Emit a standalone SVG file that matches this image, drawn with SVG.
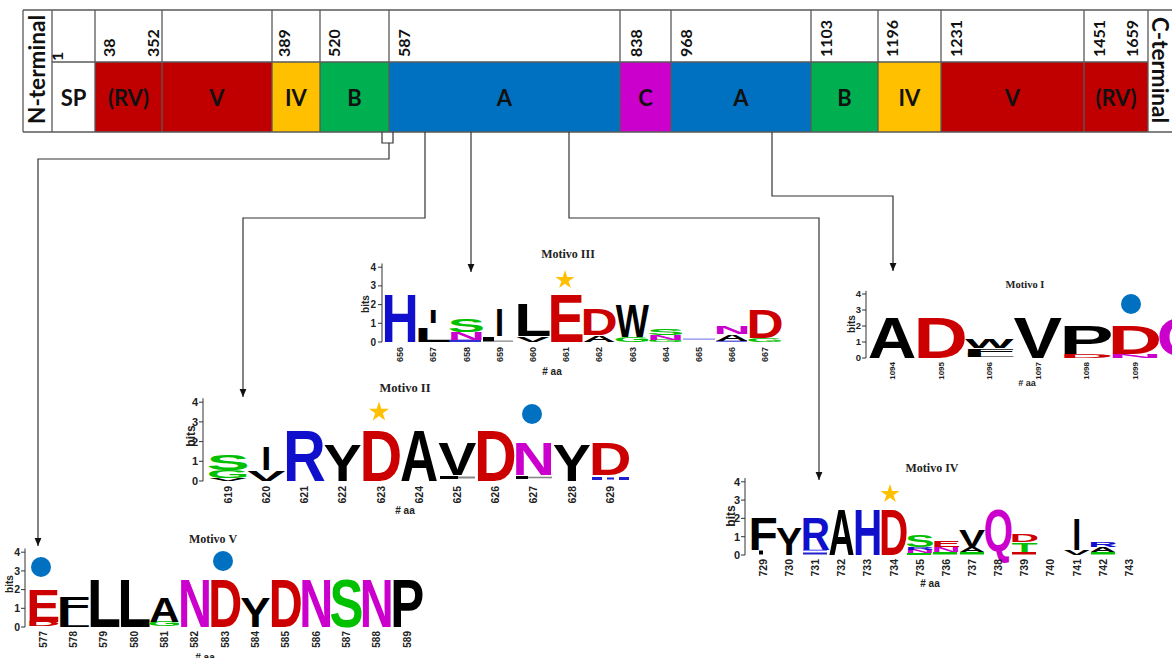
<svg xmlns="http://www.w3.org/2000/svg" xmlns:xlink="http://www.w3.org/1999/xlink" width="1172" height="658" viewBox="0 0 1172 658">
<style>
.fr{fill:none;stroke:#5a5a5a;stroke-width:1.3}
.lbl{font-family:Lato,"Liberation Sans",sans-serif;font-weight:bold;font-size:22px;text-anchor:middle;fill:#111}
.num{font-family:Lato,"Liberation Sans",sans-serif;font-weight:bold;font-size:16px;fill:#111}
.term{font-family:Lato,"Liberation Sans",sans-serif;font-weight:bold;font-size:22px;fill:#111}
.conn{fill:none;stroke:#333;stroke-width:1.2}
.g{font-family:"Liberation Sans",Arial,sans-serif;font-weight:bold;font-size:100px}
.b{fill:#1010CC}.r{fill:#CC0000}.k{fill:#000}.gr{fill:#00C000}.m{fill:#CC00CC}
.ax{fill:none;stroke:#333;stroke-width:1}
.tk{font-family:"Liberation Sans",Arial,sans-serif;font-weight:bold;text-anchor:end;fill:#222}
.xl{font-family:"Liberation Sans",Arial,sans-serif;font-weight:bold;text-anchor:end;fill:#222}
.bits{font-family:"Liberation Sans",Arial,sans-serif;font-weight:bold;text-anchor:middle;fill:#222}
.aa{font-family:"Liberation Sans",Arial,sans-serif;font-weight:bold;text-anchor:middle;fill:#222}
.ttl{font-family:"Liberation Serif","Times New Roman",serif;font-weight:bold;text-anchor:middle;fill:#222}
.star{fill:#FFC000}
.dot{fill:#0070C0}
</style>
<defs>
<marker id="ah" viewBox="0 0 8 8" refX="8" refY="4" markerWidth="8" markerHeight="8" orient="auto" markerUnits="userSpaceOnUse"><path d="M0,0.6 L8,4 L0,7.4 Z" fill="#111"/></marker>
<polygon id="st" points="0,-10 2.245,-3.09 9.51,-3.09 3.63,1.18 5.88,8.09 0,3.82 -5.88,8.09 -3.63,1.18 -9.51,-3.09 -2.245,-3.09"/>
</defs>
<rect width="1172" height="658" fill="#fff"/>

<!-- protein domain bar -->
<g id="domains">
<g id="d-nterm"><text class="term" transform="translate(45,124) rotate(-90)" textLength="109" lengthAdjust="spacingAndGlyphs">N-terminal</text></g>
<g id="d-sp"><rect x="52" y="62" width="43" height="70" fill="#fff"/><text class="lbl" x="73.5" y="106">SP</text><text class="num" transform="translate(63,61) rotate(-90)">1</text></g>
<g id="d-rv1"><rect x="95" y="62" width="67" height="70" fill="#C00000"/><text class="lbl" x="128.5" y="106">(RV)</text><text class="num" transform="translate(115,57) rotate(-90)">38</text><text class="num" transform="translate(159,57) rotate(-90)">352</text></g>
<g id="d-v1"><rect x="162" y="62" width="110" height="70" fill="#C00000"/><text class="lbl" x="217" y="106">V</text></g>
<g id="d-iv1"><rect x="272" y="62" width="48" height="70" fill="#FFC000"/><text class="lbl" x="296" y="106">IV</text><text class="num" transform="translate(290,57) rotate(-90)">389</text></g>
<g id="d-b1"><rect x="320" y="62" width="69" height="70" fill="#00B050"/><text class="lbl" x="354.5" y="106">B</text><text class="num" transform="translate(340,57) rotate(-90)">520</text></g>
<g id="d-a1"><rect x="389" y="62" width="231" height="70" fill="#0070C0"/><text class="lbl" x="504.5" y="106">A</text><text class="num" transform="translate(410,57) rotate(-90)">587</text></g>
<g id="d-c"><rect x="620" y="62" width="51" height="70" fill="#CC00CC"/><text class="lbl" x="645.5" y="106">C</text><text class="num" transform="translate(642,57) rotate(-90)">838</text></g>
<g id="d-a2"><rect x="671" y="62" width="140" height="70" fill="#0070C0"/><text class="lbl" x="741" y="106">A</text><text class="num" transform="translate(692,57) rotate(-90)">968</text></g>
<g id="d-b2"><rect x="811" y="62" width="67" height="70" fill="#00B050"/><text class="lbl" x="844.5" y="106">B</text><text class="num" transform="translate(832,57) rotate(-90)">1103</text></g>
<g id="d-iv2"><rect x="878" y="62" width="63" height="70" fill="#FFC000"/><text class="lbl" x="909.5" y="106">IV</text><text class="num" transform="translate(898,57) rotate(-90)">1196</text></g>
<g id="d-v2"><rect x="941" y="62" width="143" height="70" fill="#C00000"/><text class="lbl" x="1012.5" y="106">V</text><text class="num" transform="translate(962,57) rotate(-90)">1231</text></g>
<g id="d-rv2"><rect x="1084" y="62" width="64" height="70" fill="#C00000"/><text class="lbl" x="1116" y="106">(RV)</text><text class="num" transform="translate(1105,57) rotate(-90)">1451</text><text class="num" transform="translate(1138,57) rotate(-90)">1659</text></g>
<g id="d-cterm"><text class="term" transform="translate(1152,17) rotate(90)" textLength="106" lengthAdjust="spacingAndGlyphs">C-terminal</text></g>
<g id="frame" class="fr">
<path d="M23,10 H1172 M23,132 H1172 M23,10 V132 M52,62 H1148"/>
<path d="M52,10 V132 M95,10 V132 M162,10 V132 M272,10 V132 M320,10 V132 M389,10 V132 M620,10 V132 M671,10 V132 M811,10 V132 M878,10 V132 M941,10 V132 M1084,10 V132 M1148,10 V132"/>
</g>
</g>

<!-- connectors -->
<g id="connectors" class="conn">
<path d="M382,132 V143 H393 V132"/>
<path d="M389,143 V159 H38 V546" marker-end="url(#ah)"/>
<path d="M425,132 V218 H243 V397" marker-end="url(#ah)"/>
<path d="M471,132 V272" marker-end="url(#ah)"/>
<path d="M569,132 V218 H819 V480" marker-end="url(#ah)"/>
<path d="M772,132 V196 H893 V271" marker-end="url(#ah)"/>
</g>

<!-- Motivo III -->
<g id="motif3">
<text class="ttl" x="568" y="258" font-size="12">Motivo III</text>
<path class="ax" d="M382,342 V263.5 M378,342 H382 M378,323.3 H382 M378,304.6 H382 M378,285.9 H382 M378,267.2 H382"/>
<g class="tk" font-size="10"><text x="376" y="345.5">0</text><text x="376" y="326.8">1</text><text x="376" y="308.1">2</text><text x="376" y="289.4">3</text><text x="376" y="270.7">4</text></g>
<text class="bits" font-size="10" transform="translate(369,304) rotate(-90)">bits</text>
<text class="g b" x="381.4" textLength="37.2" lengthAdjust="spacingAndGlyphs" transform="matrix(1 0 0 .679 0 342)">H</text>
<text class="g k" x="414.6" textLength="37.2" lengthAdjust="spacingAndGlyphs" transform="matrix(1 0 0 .209 0 342)">L</text>
<text class="g k" x="428.7" textLength="9" lengthAdjust="spacingAndGlyphs" transform="matrix(1 0 0 .183 0 323.3)">I</text>
<rect x="450" y="339.6" width="31" height="2.4" fill="#3030d0"/>
<text class="g m" x="447.8" textLength="37.2" lengthAdjust="spacingAndGlyphs" transform="matrix(1 0 0 .107 0 339.57)">N</text>
<text class="g gr" x="447.8" textLength="37.2" lengthAdjust="spacingAndGlyphs" transform="matrix(1 0 0 .188 0 331.9)">S</text>
<rect x="483" y="337" width="11" height="4.5" fill="#000"/><rect x="494" y="340.6" width="19" height="1" fill="#666"/>
<text class="g k" x="495.1" textLength="9" lengthAdjust="spacingAndGlyphs" transform="matrix(1 0 0 .392 0 336.4)">I</text>
<text class="g k" x="516.2" textLength="33.2" lengthAdjust="spacingAndGlyphs" transform="matrix(1 0 0 .078 0 342)">V</text>
<text class="g k" x="514.2" textLength="37.2" lengthAdjust="spacingAndGlyphs" transform="matrix(1 0 0 .462 0 336.4)">L</text>
<text class="g r" x="547.4" textLength="37.2" lengthAdjust="spacingAndGlyphs" transform="matrix(1 0 0 .679 0 342)">E</text>
<use xlink:href="#st" href="#st" class="star" transform="translate(565,280)"/>
<text class="g k" x="582.6" textLength="33.2" lengthAdjust="spacingAndGlyphs" transform="matrix(1 0 0 .094 0 342)">A</text>
<text class="g r" x="580.6" textLength="37.2" lengthAdjust="spacingAndGlyphs" transform="matrix(1 0 0 .376 0 335.3)">D</text>
<text class="g gr" x="613.8" textLength="37.2" lengthAdjust="spacingAndGlyphs" transform="matrix(1 0 0 .0705 0 342)">G</text>
<text class="g k" x="615.8" textLength="33.2" lengthAdjust="spacingAndGlyphs" transform="matrix(1 0 0 .4675 0 336.95)">W</text>
<text class="g gr" x="647" textLength="37.2" lengthAdjust="spacingAndGlyphs" transform="matrix(1 0 0 .034 0 342)">G</text>
<text class="g m" x="647" textLength="37.2" lengthAdjust="spacingAndGlyphs" transform="matrix(1 0 0 .0705 0 339.57)">N</text>
<text class="g gr" x="647" textLength="37.2" lengthAdjust="spacingAndGlyphs" transform="matrix(1 0 0 .0836 0 334.5)">S</text>
<rect x="683" y="338.3" width="32" height="1.7" fill="#a8a8f0"/>
<rect x="716" y="340.5" width="31" height="1.5" fill="#6666dd"/>
<text class="g k" x="715.4" textLength="33.2" lengthAdjust="spacingAndGlyphs" transform="matrix(1 0 0 .0862 0 340.5)">A</text>
<text class="g m" x="713.4" textLength="37.2" lengthAdjust="spacingAndGlyphs" transform="matrix(1 0 0 .112 0 334.33)">N</text>
<text class="g gr" x="746.6" textLength="37.2" lengthAdjust="spacingAndGlyphs" transform="matrix(1 0 0 .06 0 342)">G</text>
<text class="g r" x="746.6" textLength="37.2" lengthAdjust="spacingAndGlyphs" transform="matrix(1 0 0 .41 0 337.7)">D</text>
<g class="xl" font-size="9">
<text transform="translate(403.2,347) rotate(-90)">656</text><text transform="translate(436.4,347) rotate(-90)">657</text><text transform="translate(469.6,347) rotate(-90)">658</text><text transform="translate(502.8,347) rotate(-90)">659</text><text transform="translate(536,347) rotate(-90)">660</text><text transform="translate(569.2,347) rotate(-90)">661</text><text transform="translate(602.4,347) rotate(-90)">662</text><text transform="translate(635.6,347) rotate(-90)">663</text><text transform="translate(668.8,347) rotate(-90)">664</text><text transform="translate(702,347) rotate(-90)">665</text><text transform="translate(735.2,347) rotate(-90)">666</text><text transform="translate(768.4,347) rotate(-90)">667</text>
</g>
<text class="aa" x="552" y="375" font-size="10"># aa</text>
</g>

<!-- Motivo II -->
<g id="motif2">
<text class="ttl" x="405" y="392" font-size="12.5">Motivo II</text>
<path class="ax" d="M203,481 V398.3 M199,481 H203 M199,461.3 H203 M199,441.6 H203 M199,421.9 H203 M199,402.2 H203"/>
<g class="tk" font-size="11"><text x="198" y="485">0</text><text x="198" y="465.3">1</text><text x="198" y="445.6">2</text><text x="198" y="425.9">3</text><text x="198" y="406.2">4</text></g>
<text class="bits" font-size="12" transform="translate(195,436) rotate(-90)">bits</text>
<text class="g k" x="209" textLength="38.2" lengthAdjust="spacingAndGlyphs" transform="matrix(1 0 0 .0413 0 481)">V</text>
<text class="g gr" x="206.7" textLength="42.8" lengthAdjust="spacingAndGlyphs" transform="matrix(1 0 0 .110 0 478.04)">G</text>
<text class="g gr" x="206.7" textLength="42.8" lengthAdjust="spacingAndGlyphs" transform="matrix(1 0 0 .212 0 470.16)">S</text>
<text class="g k" x="247.2" textLength="38.2" lengthAdjust="spacingAndGlyphs" transform="matrix(1 0 0 .154 0 481)">V</text>
<text class="g k" x="261.3" textLength="10" lengthAdjust="spacingAndGlyphs" transform="matrix(1 0 0 .327 0 469.97)">I</text>
<text class="g b" x="283.1" textLength="42.8" lengthAdjust="spacingAndGlyphs" transform="matrix(1 0 0 .715 0 481)">R</text>
<text class="g k" x="323.6" textLength="38.2" lengthAdjust="spacingAndGlyphs" transform="matrix(1 0 0 .523 0 481)">Y</text>
<text class="g r" x="359.5" textLength="42.8" lengthAdjust="spacingAndGlyphs" transform="matrix(1 0 0 .715 0 481)">D</text>
<use xlink:href="#st" href="#st" class="star" transform="translate(379,412) scale(1.05)"/>
<text class="g k" x="400" textLength="38.2" lengthAdjust="spacingAndGlyphs" transform="matrix(1 0 0 .715 0 481)">A</text>
<rect x="440" y="476" width="18" height="3" fill="#000"/><rect x="458" y="476.5" width="17" height="2" fill="#888"/>
<text class="g k" x="438.2" textLength="38.2" lengthAdjust="spacingAndGlyphs" transform="matrix(1 0 0 .468 0 475.09)">V</text>
<text class="g r" x="474.1" textLength="42.8" lengthAdjust="spacingAndGlyphs" transform="matrix(1 0 0 .715 0 481)">D</text>
<rect x="516" y="476" width="12" height="3" fill="#000"/><rect x="528" y="476.7" width="24" height="1.6" fill="#888"/>
<text class="g m" x="512.3" textLength="42.8" lengthAdjust="spacingAndGlyphs" transform="matrix(1 0 0 .468 0 475.09)">N</text>
<circle class="dot" cx="532" cy="414" r="10"/>
<text class="g k" x="552.8" textLength="38.2" lengthAdjust="spacingAndGlyphs" transform="matrix(1 0 0 .523 0 481)">Y</text>
<rect x="592" y="477" width="10" height="3" fill="#2020d0"/><rect x="607" y="477.5" width="7" height="2" fill="#2020d0"/><rect x="619" y="477" width="10" height="3" fill="#2020d0"/>
<text class="g r" x="588.7" textLength="42.8" lengthAdjust="spacingAndGlyphs" transform="matrix(1 0 0 .468 0 475.09)">D</text>
<g class="xl" font-size="10.5">
<text transform="translate(231.8,486) rotate(-90)">619</text><text transform="translate(270,486) rotate(-90)">620</text><text transform="translate(308.2,486) rotate(-90)">621</text><text transform="translate(346.4,486) rotate(-90)">622</text><text transform="translate(384.6,486) rotate(-90)">623</text><text transform="translate(422.8,486) rotate(-90)">624</text><text transform="translate(461,486) rotate(-90)">625</text><text transform="translate(499.2,486) rotate(-90)">626</text><text transform="translate(537.4,486) rotate(-90)">627</text><text transform="translate(575.6,486) rotate(-90)">628</text><text transform="translate(613.8,486) rotate(-90)">629</text>
</g>
<text class="aa" x="405" y="514" font-size="10"># aa</text>
</g>

<!-- Motivo I -->
<g id="motif1">
<text class="ttl" x="1025" y="288" font-size="10.5">Motivo I</text>
<path class="ax" d="M866,358 V290.8 M862,358 H866 M862,342 H866 M862,326 H866 M862,310 H866 M862,294 H866"/>
<g class="tk" font-size="9.5"><text x="861" y="361.3">0</text><text x="861" y="345.3">1</text><text x="861" y="329.3">2</text><text x="861" y="313.3">3</text><text x="861" y="297.3">4</text></g>
<text class="bits" font-size="10" transform="translate(855,324) rotate(-90)">bits</text>
<text class="g k" x="867.7" textLength="48.6" lengthAdjust="spacingAndGlyphs" transform="matrix(1 0 0 .581 0 358)">A</text>
<text class="g r" x="913.4" textLength="54.4" lengthAdjust="spacingAndGlyphs" transform="matrix(1 0 0 .581 0 358)">D</text>
<text class="g k" x="962" textLength="54.4" lengthAdjust="spacingAndGlyphs" transform="matrix(1 0 0 .0447 0 357.2)">L</text>
<text class="g k" x="962" textLength="54.4" lengthAdjust="spacingAndGlyphs" transform="matrix(1 0 0 .067 0 353.52)">F</text>
<text class="g k" x="964.9" textLength="48.6" lengthAdjust="spacingAndGlyphs" transform="matrix(1 0 0 .123 0 348.4)">W</text>
<text class="g k" x="1013.5" textLength="48.6" lengthAdjust="spacingAndGlyphs" transform="matrix(1 0 0 .581 0 358)">V</text>
<text class="g r" x="1059.2" textLength="54.4" lengthAdjust="spacingAndGlyphs" transform="matrix(1 0 0 .0603 0 358)">D</text>
<text class="g k" x="1059.2" textLength="54.4" lengthAdjust="spacingAndGlyphs" transform="matrix(1 0 0 .4 0 353.68)">P</text>
<text class="g m" x="1107.8" textLength="54.4" lengthAdjust="spacingAndGlyphs" transform="matrix(1 0 0 .0603 0 358)">N</text>
<text class="g r" x="1107.8" textLength="54.4" lengthAdjust="spacingAndGlyphs" transform="matrix(1 0 0 .4 0 353.68)">D</text>
<circle class="dot" cx="1131" cy="304" r="10"/>
<text class="g m" x="1156.4" textLength="54.4" lengthAdjust="spacingAndGlyphs" transform="matrix(1 0 0 .547 0 355.6)">Q</text>
<g class="xl" font-size="8">
<text transform="translate(894.9,362) rotate(-90)">1094</text><text transform="translate(943.5,362) rotate(-90)">1095</text><text transform="translate(992.1,362) rotate(-90)">1096</text><text transform="translate(1040.7,362) rotate(-90)">1097</text><text transform="translate(1089.3,362) rotate(-90)">1098</text><text transform="translate(1137.9,362) rotate(-90)">1099</text>
</g>
<text class="aa" x="1027" y="386" font-size="9"># aa</text>
</g>

<!-- Motivo IV -->
<g id="motif4">
<text class="ttl" x="932" y="472" font-size="12">Motivo IV</text>
<path class="ax" d="M745,555 V478.1 M741,555 H745 M741,536.7 H745 M741,518.4 H745 M741,500.1 H745 M741,481.8 H745"/>
<g class="tk" font-size="11"><text x="740" y="559">0</text><text x="740" y="540.7">1</text><text x="740" y="522.4">2</text><text x="740" y="504.1">3</text><text x="740" y="485.8">4</text></g>
<text class="bits" font-size="12" transform="translate(735,516) rotate(-90)">bits</text>
<rect x="759" y="550.5" width="4" height="4" fill="#000"/>
<text class="g k" x="748.4" textLength="29.3" lengthAdjust="spacingAndGlyphs" transform="matrix(1 0 0 .468 0 550.06)">F</text>
<text class="g k" x="776.1" textLength="26.1" lengthAdjust="spacingAndGlyphs" transform="matrix(1 0 0 .396 0 555)">Y</text>
<rect x="803" y="552.5" width="24" height="2" fill="#2020d0"/><rect x="803" y="549.5" width="24" height="1.5" fill="#8080ff"/>
<text class="g b" x="800.7" textLength="29.3" lengthAdjust="spacingAndGlyphs" transform="matrix(1 0 0 .468 0 550.06)">R</text>
<text class="g k" x="828.4" textLength="26.1" lengthAdjust="spacingAndGlyphs" transform="matrix(1 0 0 .652 0 555)">A</text>
<text class="g b" x="853" textLength="29.3" lengthAdjust="spacingAndGlyphs" transform="matrix(1 0 0 .652 0 555)">H</text>
<text class="g r" x="879.1" textLength="29.3" lengthAdjust="spacingAndGlyphs" transform="matrix(1 0 0 .652 0 555)">D</text>
<use xlink:href="#st" href="#st" class="star" transform="translate(890,494)"/>
<rect x="907" y="553" width="24" height="2" fill="#00C000"/>
<text class="g m" x="905.2" textLength="29.3" lengthAdjust="spacingAndGlyphs" transform="matrix(1 0 0 .046 0 552.8)">N</text>
<text class="g b" x="905.2" textLength="29.3" lengthAdjust="spacingAndGlyphs" transform="matrix(1 0 0 .0384 0 549.51)">R</text>
<text class="g gr" x="905.2" textLength="29.3" lengthAdjust="spacingAndGlyphs" transform="matrix(1 0 0 .166 0 546.76)">S</text>
<rect x="933" y="552" width="24" height="2.5" fill="#00C000"/>
<text class="g m" x="931.4" textLength="29.3" lengthAdjust="spacingAndGlyphs" transform="matrix(1 0 0 .069 0 551.71)">N</text>
<text class="g r" x="931.4" textLength="29.3" lengthAdjust="spacingAndGlyphs" transform="matrix(1 0 0 .0946 0 546.76)">E</text>
<rect x="960" y="552" width="24" height="2.5" fill="#00C000"/>
<text class="g k" x="959.1" textLength="26.1" lengthAdjust="spacingAndGlyphs" transform="matrix(1 0 0 .069 0 551.71)">A</text>
<text class="g k" x="959.1" textLength="26.1" lengthAdjust="spacingAndGlyphs" transform="matrix(1 0 0 .2326 0 546.76)">V</text>
<text class="g m" x="983.7" textLength="29.3" lengthAdjust="spacingAndGlyphs" transform="matrix(1 0 0 .6006 0 551.34)">Q</text>
<rect x="1012" y="552" width="24" height="2.5" fill="#CC0000"/>
<text class="g gr" x="1011.4" textLength="26.1" lengthAdjust="spacingAndGlyphs" transform="matrix(1 0 0 .133 0 551.71)">T</text>
<text class="g r" x="1009.8" textLength="29.3" lengthAdjust="spacingAndGlyphs" transform="matrix(1 0 0 .102 0 542.19)">D</text>
<text class="g k" x="1063.7" textLength="26.1" lengthAdjust="spacingAndGlyphs" transform="matrix(1 0 0 .069 0 555)">V</text>
<text class="g k" x="1072.3" textLength="9" lengthAdjust="spacingAndGlyphs" transform="matrix(1 0 0 .442 0 550.06)">I</text>
<rect x="1091" y="552" width="24" height="2.5" fill="#00C000"/>
<text class="g k" x="1089.8" textLength="26.1" lengthAdjust="spacingAndGlyphs" transform="matrix(1 0 0 .069 0 551.71)">A</text>
<text class="g b" x="1088.2" textLength="29.3" lengthAdjust="spacingAndGlyphs" transform="matrix(1 0 0 .064 0 546.76)">R</text>
<g class="xl" font-size="10.5">
<text transform="translate(766.8,559) rotate(-90)">729</text><text transform="translate(792.9,559) rotate(-90)">730</text><text transform="translate(819.1,559) rotate(-90)">731</text><text transform="translate(845.2,559) rotate(-90)">732</text><text transform="translate(871.4,559) rotate(-90)">733</text><text transform="translate(897.5,559) rotate(-90)">734</text><text transform="translate(923.6,559) rotate(-90)">735</text><text transform="translate(949.8,559) rotate(-90)">736</text><text transform="translate(975.9,559) rotate(-90)">737</text><text transform="translate(1002.1,559) rotate(-90)">738</text><text transform="translate(1028.2,559) rotate(-90)">739</text><text transform="translate(1054.3,559) rotate(-90)">740</text><text transform="translate(1080.5,559) rotate(-90)">741</text><text transform="translate(1106.6,559) rotate(-90)">742</text><text transform="translate(1132.8,559) rotate(-90)">743</text>
</g>
<text class="aa" x="930" y="587" font-size="10"># aa</text>
</g>

<!-- Motivo V -->
<g id="motif5">
<text class="ttl" x="213" y="543" font-size="12">Motivo V</text>
<path class="ax" d="M25,627 V548.5 M21,627 H25 M21,608.3 H25 M21,589.6 H25 M21,570.9 H25 M21,552.2 H25"/>
<g class="tk" font-size="10.5"><text x="20" y="630.7">0</text><text x="20" y="612">1</text><text x="20" y="593.3">2</text><text x="20" y="574.6">3</text><text x="20" y="555.9">4</text></g>
<text class="bits" font-size="10" transform="translate(13,584) rotate(-90)">bits</text>
<text class="g r" x="26.2" textLength="34" lengthAdjust="spacingAndGlyphs" transform="matrix(1 0 0 .0627 0 626.44)">D</text>
<text class="g r" x="26.2" textLength="34" lengthAdjust="spacingAndGlyphs" transform="matrix(1 0 0 .465 0 621.95)">E</text>
<circle class="dot" cx="41" cy="567" r="10"/>
<text class="g k" x="56.5" textLength="34" lengthAdjust="spacingAndGlyphs" transform="matrix(1 0 0 .162 0 627)">L</text>
<text class="g k" x="56.5" textLength="34" lengthAdjust="spacingAndGlyphs" transform="matrix(1 0 0 .256 0 615.41)">F</text>
<text class="g k" x="86.9" textLength="34" lengthAdjust="spacingAndGlyphs" transform="matrix(1 0 0 .679 0 627)">L</text>
<text class="g k" x="117.2" textLength="34" lengthAdjust="spacingAndGlyphs" transform="matrix(1 0 0 .679 0 627)">L</text>
<text class="g gr" x="147.5" textLength="34" lengthAdjust="spacingAndGlyphs" transform="matrix(1 0 0 .0627 0 626.44)">G</text>
<text class="g k" x="149.3" textLength="30.3" lengthAdjust="spacingAndGlyphs" transform="matrix(1 0 0 .347 0 621.95)">A</text>
<text class="g m" x="177.9" textLength="34" lengthAdjust="spacingAndGlyphs" transform="matrix(1 0 0 .679 0 627)">N</text>
<text class="g r" x="208.2" textLength="34" lengthAdjust="spacingAndGlyphs" transform="matrix(1 0 0 .679 0 627)">D</text>
<circle class="dot" cx="223" cy="561" r="10"/>
<text class="g k" x="240.3" textLength="30.3" lengthAdjust="spacingAndGlyphs" transform="matrix(1 0 0 .418 0 627)">Y</text>
<text class="g r" x="268.8" textLength="34" lengthAdjust="spacingAndGlyphs" transform="matrix(1 0 0 .679 0 627)">D</text>
<text class="g m" x="299.2" textLength="34" lengthAdjust="spacingAndGlyphs" transform="matrix(1 0 0 .679 0 627)">N</text>
<text class="g gr" x="329.5" textLength="34" lengthAdjust="spacingAndGlyphs" transform="matrix(1 0 0 .679 0 627)">S</text>
<text class="g m" x="359.8" textLength="34" lengthAdjust="spacingAndGlyphs" transform="matrix(1 0 0 .679 0 627)">N</text>
<text class="g k" x="390.2" textLength="34" lengthAdjust="spacingAndGlyphs" transform="matrix(1 0 0 .679 0 627)">P</text>
<g class="xl" font-size="10">
<text transform="translate(46.6,631) rotate(-90)">577</text><text transform="translate(76.9,631) rotate(-90)">578</text><text transform="translate(107.3,631) rotate(-90)">579</text><text transform="translate(137.6,631) rotate(-90)">580</text><text transform="translate(167.9,631) rotate(-90)">581</text><text transform="translate(198.3,631) rotate(-90)">582</text><text transform="translate(228.6,631) rotate(-90)">583</text><text transform="translate(258.9,631) rotate(-90)">584</text><text transform="translate(289.2,631) rotate(-90)">585</text><text transform="translate(319.6,631) rotate(-90)">586</text><text transform="translate(349.9,631) rotate(-90)">587</text><text transform="translate(380.2,631) rotate(-90)">588</text><text transform="translate(410.6,631) rotate(-90)">589</text>
</g>
<text class="aa" x="205" y="661" font-size="10"># aa</text>
</g>
</svg>
